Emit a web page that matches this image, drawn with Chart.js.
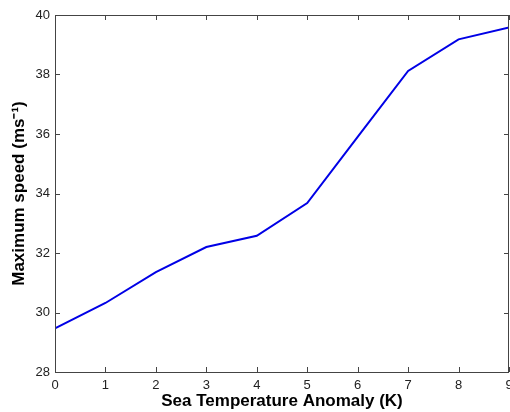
<!DOCTYPE html>
<html><head><meta charset="utf-8">
<script src="https://cdn.jsdelivr.net/npm/chart.js@4"></script>
<style>html,body{margin:0;padding:0;background:#fff}#wrap{width:510px;height:412px}</style>
</head><body><div id="wrap"><canvas id="c" width="510" height="412"></canvas></div>
<script>
const anomalies = [0,1,2,3,4,5,6,7,8,9];
const maxSpeed = [29.47,30.32,31.36,32.2,32.58,33.68,35.9,38.12,39.18,39.58];
const xTicks = [0,1,2,3,4,5,6,7,8,9];
const yTicks = [28,30,32,34,36,38,40];
const xTitle = 'Sea Temperature Anomaly (K)';
const yTitle = 'Maximum speed (ms\u207B\u00B9)';

const framePlugin = {
  id:'frame',
  afterDraw(chart){
    const {ctx, chartArea:a, scales:{x,y}} = chart;
    ctx.save();
    ctx.strokeStyle = '#444';
    ctx.lineWidth = 1;
    ctx.beginPath();
    ctx.rect(Math.round(a.left)+0.5, Math.round(a.top)+0.5, Math.round(a.right-a.left)-1, Math.round(a.bottom-a.top));
    ctx.stroke();
    ctx.beginPath();
    const tl = 5;
    xTicks.forEach(v=>{
      const px = Math.round(x.getPixelForValue(v))+0.5;
      ctx.moveTo(px, a.bottom); ctx.lineTo(px, a.bottom-tl);
      ctx.moveTo(px, a.top); ctx.lineTo(px, a.top+tl);
    });
    yTicks.forEach(v=>{
      const py = Math.round(y.getPixelForValue(v))+0.5;
      ctx.moveTo(a.left, py); ctx.lineTo(a.left+tl, py);
      ctx.moveTo(a.right, py); ctx.lineTo(a.right-tl, py);
    });
    ctx.stroke();
    ctx.restore();
  }
};

new Chart(document.getElementById('c'), {
  type:'line',
  data:{ datasets:[{
    data: anomalies.map((a,i)=>({x:a, y:maxSpeed[i]})),
    borderColor:'#0000e6', borderWidth:2, pointRadius:0, tension:0, fill:false
  }]},
  options:{
    responsive:false, animation:false,
    layout:{padding:{top:15,right:1,left:0,bottom:0}},
    plugins:{legend:{display:false}, tooltip:{enabled:false}},
    scales:{
      x:{type:'linear', min:0, max:9,
        afterBuildTicks(s){ s.ticks = xTicks.map(v=>({value:v})); },
        afterFit(s){ s.height = 40; s.paddingRight = 0; s.paddingLeft = 0; },
        grid:{display:false, drawTicks:false}, border:{display:false},
        ticks:{color:'#222', padding:6, font:{family:'Liberation Sans, Arial', size:13}, maxRotation:0, autoSkip:false},
        title:{display:true, text:xTitle, color:'#000', padding:{top:0,bottom:0}, font:{family:'Liberation Sans, Arial', size:17, weight:'bold'}}
      },
      y:{type:'linear', min:28, max:40,
        afterBuildTicks(s){ s.ticks = yTicks.map(v=>({value:v})); },
        afterFit(s){ s.width = 55; },
        grid:{display:false, drawTicks:false}, border:{display:false},
        ticks:{color:'#222', padding:5, font:{family:'Liberation Sans, Arial', size:13}},
        title:{display:true, text:yTitle, color:'#000', padding:{top:9,bottom:0}, font:{family:'Liberation Sans, Arial', size:17, weight:'bold'}}
      }
    }
  },
  plugins:[framePlugin]
});
</script></body></html>
